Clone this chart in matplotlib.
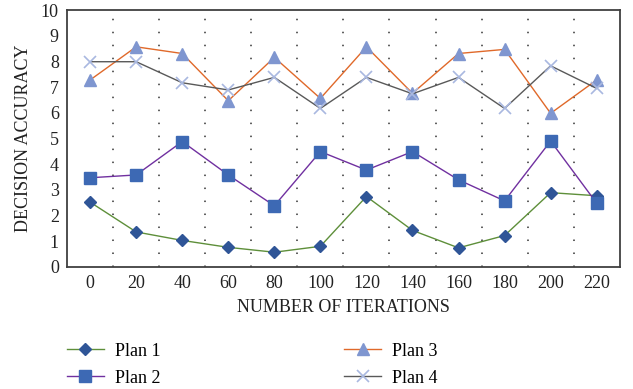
import matplotlib.pyplot as plt
import numpy as np

plt.rcParams['font.family'] = ['Liberation Serif', 'DejaVu Serif']

iterations = ['0', '20', '40', '60', '80', '100', '120', '140', '160', '180', '200', '220']
plan1 = [2.52, 1.36, 1.03, 0.76, 0.57, 0.80, 2.74, 1.42, 0.74, 1.22, 2.89, 2.77]
plan2 = [3.47, 3.58, 4.88, 3.58, 2.38, 4.49, 3.77, 4.49, 3.39, 2.57, 4.90, 2.48]
plan3 = [7.28, 8.57, 8.31, 6.47, 8.16, 6.56, 8.57, 6.76, 8.31, 8.47, 5.98, 7.28]
plan4 = [7.99, 7.99, 7.17, 6.89, 7.38, 6.17, 7.38, 6.74, 7.38, 6.17, 7.83, 6.95]

x = np.arange(len(iterations))

fig = plt.figure(figsize=(6.33, 3.89), dpi=100)
ax = fig.add_axes([0.106, 0.314, 0.873, 0.660])

# dotted separators between categories
for b in np.arange(0.5, len(iterations) - 1, 1.0):
    ax.axvline(b, color='#333333', lw=1.1, linestyle=(0, (1, 7.5)), zorder=0)

ax.plot(x, plan1, color='#5E8F3A', lw=1.0, marker='D', ms=6.5,
        mfc='#2F5597', mec='#2F5597', label='Plan 1')
ax.plot(x, plan2, color='#7030A0', lw=1.0, marker='s', ms=8,
        mfc='#3D69B4', mec='#3D69B4', label='Plan 2')
ax.plot(x, plan3, color='#E0692A', lw=1.0, marker='^', ms=8.5,
        mfc='#7F96D0', mec='#7F96D0', label='Plan 3')
ax.plot(x, plan4, color='#595959', lw=1.0, marker='x', ms=8.5,
        mew=1.2, mec='#A9B8E0', label='Plan 4')

ax.set_xlim(-0.5, len(iterations) - 0.5)
ax.set_ylim(0, 10)
ax.set_xticks(x)
ax.set_xticklabels(iterations)
ax.set_yticks(range(0, 11))
ax.tick_params(length=0, labelsize=13, colors='#222222', pad=6)
for s in ax.spines.values():
    s.set_color('#404040')
    s.set_linewidth(1.3)

ax.set_xlabel('NUMBER OF ITERATIONS', fontsize=13, color='#222222', labelpad=5)
ax.set_ylabel('DECISION ACCURACY', fontsize=13, color='#222222', labelpad=6)

fig.legend(loc='upper left', bbox_to_anchor=(0.094, 0.1375), ncol=2, frameon=False,
           fontsize=13, handlelength=2.05, handletextpad=0.6, columnspacing=10.2,
           labelspacing=0.55, borderaxespad=0)

fig.savefig('out.png', dpi=100)
